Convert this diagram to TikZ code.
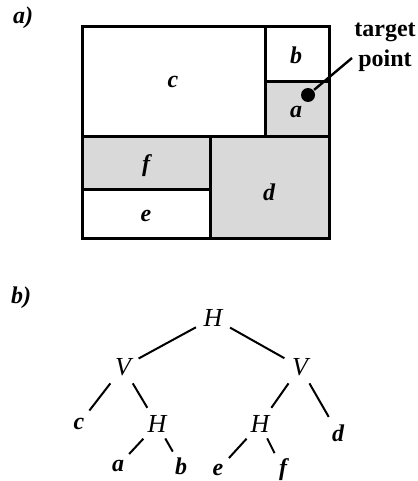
\documentclass[tikz,border=0pt]{standalone}
\usepackage{fontspec}
\setmainfont{Liberation Serif}
\begin{document}
\begin{tikzpicture}[
  x=0.5pt,y=-0.5pt,every node/.style={font=\fontsize{12}{14}\selectfont\bfseries\itshape},
  every path/.style={line width=1pt},
  cell/.style={draw,line width=1.5pt},
  shaded/.style={cell,fill=black!15},
  split/.style={font=\fontsize{13}{14}\selectfont\itshape},
  dot/.style={circle,fill=black,inner sep=0pt,minimum size=7pt},
  gap/.style={shorten <=#1,shorten >=#1}]
  \useasboundingbox (0,0) rectangle (417,481);
  % a) the area split into rectangles; a, f and d are shaded
  \node (capa) at (23,18) {a)};
  \draw[cell] (82,27) rectangle (265,136);
  \draw[cell] (265,27) rectangle (329,82);
  \draw[shaded] (265,82) rectangle (329,136);
  \draw[shaded] (82,136) rectangle (210,189);
  \draw[cell] (82,189) rectangle (210,238);
  \draw[shaded] (210,136) rectangle (329,238);
  \node (rc) at (173,82) {c};
  \node (rb) at (296,55) {b};
  \node (ra) at (296,112) {a};
  \node (rf) at (146,166) {f};
  \node (rd) at (269,192) {d};
  \node (re) at (146,216) {e};
  \node[dot] (tp) at (308,95) {};
  \coordinate (tpend) at (352,58);
  \draw[line width=1.2pt] (tp) -- (tpend);
  \node[font=\fontsize{12}{15}\selectfont\bfseries,align=center] (tplabel) at (385,47) {target\\point};

  % b) the tree of cuts
  \node (capb) at (21,298) {b)};
  \node[split] (h0) at (213,318) {H};
  \node[split] (v1) at (123,367) {V};
  \node[split] (v2) at (300,367) {V};
  \node[split] (h1) at (157,424) {H};
  \node[split] (h2) at (260,424) {H};
  \node (tc) at (79,424) {c};
  \node (td) at (338,433) {d};
  \node (ta) at (118,466) {a};
  \node (tb) at (181,466) {b};
  \node (te) at (218,470) {e};
  \node (tf) at (283,470) {f};
  \draw[gap=0pt] (h0) -- (v1);
  \draw[gap=0pt] (h0) -- (v2);
  \draw[gap=0pt] (v1) -- (tc);
  \draw[gap=0pt] (v1) -- (h1);
  \draw[gap=0pt] (v2) -- (h2);
  \draw[gap=0pt] (v2) -- (td);
  \draw[gap=-1pt] (h1) -- (ta);
  \draw[gap=-1pt] (h1) -- (tb);
  \draw[gap=-1pt] (h2) -- (te);
  \draw[gap=-1pt] (h2) -- (tf);
\end{tikzpicture}
\end{document}
